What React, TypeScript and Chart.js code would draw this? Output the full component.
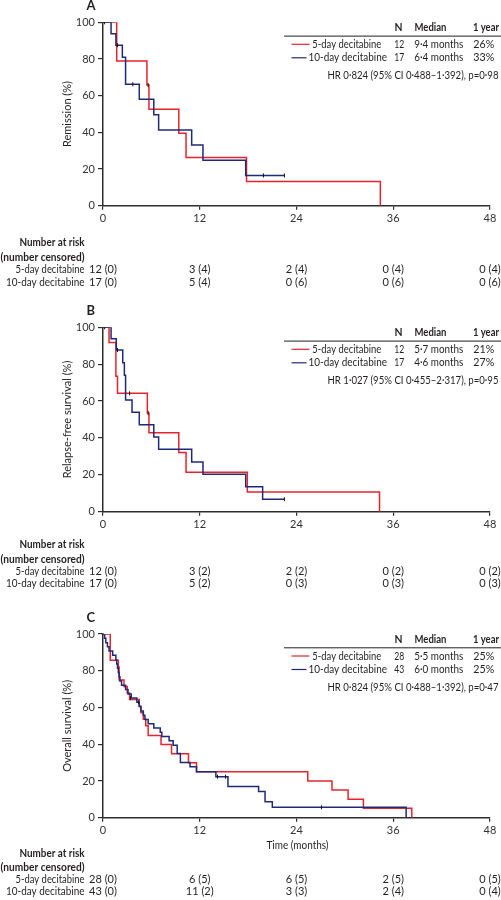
import React, { useEffect, useRef } from "react";
import { Chart, registerables } from "chart.js";

Chart.register(...registerables);

const FONT = "Lato, 'Noto Sans', sans-serif";
const RED = "#e8232b";
const BLUE = "#1e2a78";
const INK = "#231f20";
const AXIS = "#2e2e2e";

// ---------- shared labels ----------
const monthTicks = [0, 12, 24, 36, 48];
const seriesNames = ["5-day decitabine", "10-day decitabine"];
const legendHeader = ["N", "Median", "1 year"];

// ---------- Panel A: remission ----------
const remission5Time = [0, 1.7, 5.45, 5.7, 9.4, 10.3, 17.8, 34.4];
const remission5Pct = [100, 78.9, 65.8, 52.6, 39.5, 26.3, 13.2, 0];
const remission10Time = [0, 1.0, 1.6, 2.4, 2.8, 4.5, 6.3, 6.9, 11.0, 12.4, 17.7, 22.5];
const remission10Pct = [100, 93.8, 87.5, 80.9, 66.2, 58.0, 49.6, 41.3, 33.1, 24.8, 16.5, 16.5];
const remissionCensorTime = [0.2, 1.8, 3.7, 5.6, 19.9, 22.5];
const remissionCensorPct = [100, 87.5, 66.2, 65.8, 16.5, 16.5];
const remissionN = ["12", "17"];
const remissionMedian = ["9·4 months", "6·4 months"];
const remissionYear = ["26%", "33%"];
const remissionHR = "HR 0·824 (95% CI 0·488–1·392), p=0·98";
const remissionRisk5 = ["12 (0)", "3 (4)", "2 (4)", "0 (4)", "0 (4)"];
const remissionRisk10 = ["17 (0)", "5 (4)", "0 (6)", "0 (6)", "0 (6)"];

// ---------- Panel B: relapse-free survival ----------
const rfs5Time = [0, 0.75, 1.6, 1.8, 5.5, 5.7, 9.4, 10.3, 17.9, 34.3];
const rfs5Pct = [100, 91.7, 73.4, 64.2, 53.5, 42.8, 32.1, 21.4, 10.7, 0];
const rfs10Time = [0, 1.0, 1.65, 2.45, 2.65, 2.8, 3.6, 4.5, 6.3, 6.9, 11.0, 12.4, 17.7, 19.8, 22.5];
const rfs10Pct = [100, 93.8, 87.7, 80.8, 74.0, 60.6, 53.9, 47.2, 40.5, 33.8, 27.0, 20.3, 13.5, 6.8, 6.8];
const rfsCensorTime = [0.2, 1.8, 3.3, 5.6, 22.5];
const rfsCensorPct = [100, 87.7, 64.2, 53.5, 6.8];
const rfsN = ["12", "17"];
const rfsMedian = ["5·7 months", "4·6 months"];
const rfsYear = ["21%", "27%"];
const rfsHR = "HR 1·027 (95% CI 0·455–2·317), p=0·95";
const rfsRisk5 = ["12 (0)", "3 (2)", "2 (2)", "0 (2)", "0 (2)"];
const rfsRisk10 = ["17 (0)", "5 (2)", "0 (3)", "0 (3)", "0 (3)"];

// ---------- Panel C: overall survival ----------
const os5Time = [0, 0.9, 1.9, 2.0, 2.6, 3.0, 3.3, 4.5, 4.7, 5.0, 5.3, 5.6, 7.2, 8.5, 10.6, 11.6, 25.4, 28.4, 30.4, 32.3, 38.3];
const os5Pct = [100, 85.7, 82.1, 75.0, 71.4, 67.9, 64.3, 60.7, 57.1, 53.6, 50.0, 44.8, 39.9, 34.8, 29.9, 25.0, 20.0, 15.1, 10.0, 5.1, 0];
const os10Time = [0, 0.2, 0.35, 0.55, 0.75, 1.2, 1.6, 1.7, 1.8, 1.9, 2.0, 2.1, 2.3, 2.8, 3.1, 3.5, 4.2, 4.5, 4.7, 5.0, 5.2, 5.6, 6.3, 7.1, 7.3, 8.2, 8.7, 9.2, 9.6, 10.8, 11.6, 14.0, 15.5, 19.3, 20.1, 21.0, 37.6];
const os10Pct = [100, 97.7, 95.3, 93.0, 90.7, 88.4, 86.0, 83.7, 81.4, 79.1, 76.7, 74.4, 72.1, 69.8, 67.4, 65.1, 62.8, 60.5, 58.1, 55.8, 53.5, 51.2, 48.8, 46.5, 44.2, 41.9, 39.5, 35.0, 30.0, 27.8, 25.0, 22.3, 17.0, 14.2, 8.7, 5.7, 0];
const osCensorTime = [3.4, 4.4, 14.2, 15.2, 27.1];
const osCensorPct = [65.1, 62.8, 22.3, 22.3, 5.7];
const osN = ["28", "43"];
const osMedian = ["5·5 months", "6·0 months"];
const osYear = ["25%", "25%"];
const osHR = "HR 0·824 (95% CI 0·488–1·392), p=0·47";
const osRisk5 = ["28 (0)", "6 (5)", "6 (5)", "2 (5)", "0 (5)"];
const osRisk10 = ["43 (0)", "11 (2)", "3 (3)", "2 (4)", "0 (4)"];

type PanelSpec = {
  letter: string;
  yTitle: string;
  canvasTop: number;
  height: number;
  plotTop: number;
  plotBottom: number;
  t5: number[]; v5: number[];
  t10: number[]; v10: number[];
  ct: number[]; cv: number[];
  n: string[]; median: string[]; year: string[]; hr: string;
  risk5: string[]; risk10: string[];
  narY: number[];
  xTitle?: string;
  xTitleY?: number;
};

const panels: PanelSpec[] = [
  {
    letter: "A", yTitle: "Remission (%)", canvasTop: 0, height: 295, plotTop: 22.3, plotBottom: 205.7,
    t5: remission5Time, v5: remission5Pct, t10: remission10Time, v10: remission10Pct,
    ct: remissionCensorTime, cv: remissionCensorPct,
    n: remissionN, median: remissionMedian, year: remissionYear, hr: remissionHR,
    risk5: remissionRisk5, risk10: remissionRisk10, narY: [242.3, 257.3, 269.5, 282],
  },
  {
    letter: "B", yTitle: "Relapse-free survival (%)", canvasTop: 295, height: 305, plotTop: 32.3, plotBottom: 216.7,
    t5: rfs5Time, v5: rfs5Pct, t10: rfs10Time, v10: rfs10Pct,
    ct: rfsCensorTime, cv: rfsCensorPct,
    n: rfsN, median: rfsMedian, year: rfsYear, hr: rfsHR,
    risk5: rfsRisk5, risk10: rfsRisk10, narY: [249, 264.3, 276.7, 288.5],
  },
  {
    letter: "C", yTitle: "Overall survival (%)", canvasTop: 600, height: 300, plotTop: 34, plotBottom: 217.7,
    t5: os5Time, v5: os5Pct, t10: os10Time, v10: os10Pct,
    ct: osCensorTime, cv: osCensorPct,
    n: osN, median: osMedian, year: osYear, hr: osHR,
    risk5: osRisk5, risk10: osRisk10, narY: [253.3, 267.3, 279.5, 291.7],
    xTitle: "Time (months)", xTitleY: 245.7,
  },
];

const toPoints = (t: number[], v: number[]) => t.map((x, i) => ({ x, y: v[i] }));

// draw text, condensing it horizontally only if wider than the allowed width
function fit(ctx: CanvasRenderingContext2D, text: string, x: number, y: number, w: number) {
  if (ctx.measureText(text).width > w) ctx.fillText(text, x, y, w);
  else ctx.fillText(text, x, y);
}

function Panel({ spec }: { spec: PanelSpec }) {
  const ref = useRef<HTMLCanvasElement | null>(null);
  useEffect(() => {
    const canvas = ref.current;
    if (!canvas) return;
    const textPlugin = {
      id: "kmText",
      afterDraw(chart: any) {
        const ctx: CanvasRenderingContext2D = chart.ctx;
        const area = chart.chartArea;
        const xs = chart.scales.x;
        const pt = area.top;
        ctx.save();
        ctx.fillStyle = INK;
        ctx.textBaseline = "middle";
        // panel letter
        ctx.font = `bold 13px ${FONT}`;
        ctx.textAlign = "left";
        ctx.fillText(spec.letter, 86.5, pt - 16);
        // y title
        ctx.save();
        ctx.font = `11px ${FONT}`;
        ctx.translate(67, (area.top + area.bottom) / 2);
        ctx.rotate(-Math.PI / 2);
        ctx.textAlign = "center";
        ctx.fillText(spec.yTitle, 0, 0);
        ctx.restore();
        // legend table
        ctx.font = `bold 11px ${FONT}`;
        ctx.textAlign = "left";
        fit(ctx, legendHeader[0], 394.5, pt + 5, 8);
        fit(ctx, legendHeader[1], 414.5, pt + 5, 32);
        fit(ctx, legendHeader[2], 473, pt + 5, 26);
        ctx.strokeStyle = INK;
        ctx.lineWidth = 1;
        ctx.beginPath();
        ctx.moveTo(284, pt + 13.8);
        ctx.lineTo(501, pt + 13.8);
        ctx.stroke();
        const rowY = [pt + 22, pt + 35.5];
        const colors = [RED, BLUE];
        const lineEnds = [309.5, 306.5];
        const labelX = [312.3, 308.5];
        const labelW = [69, 78.5];
        ctx.font = `11px ${FONT}`;
        for (let i = 0; i < 2; i++) {
          ctx.strokeStyle = colors[i];
          ctx.lineWidth = 1.2;
          ctx.beginPath();
          ctx.moveTo(291.5, rowY[i]);
          ctx.lineTo(lineEnds[i], rowY[i]);
          ctx.stroke();
          ctx.fillStyle = INK;
          fit(ctx, seriesNames[i], labelX[i], rowY[i], labelW[i]);
          fit(ctx, spec.n[i], 394.3, rowY[i], 10);
          fit(ctx, spec.median[i], 414.3, rowY[i], 49);
          fit(ctx, spec.year[i], 473.3, rowY[i], 21);
        }
        ctx.textAlign = "right";
        fit(ctx, spec.hr, 498.5, pt + 53.3, 171);
        // x title
        if (spec.xTitle) {
          ctx.textAlign = "center";
          fit(ctx, spec.xTitle, xs.getPixelForValue(24) + 1, spec.xTitleY as number, 62);
        }
        // number at risk
        ctx.textAlign = "right";
        ctx.font = `bold 11px ${FONT}`;
        fit(ctx, "Number at risk", 84.5, spec.narY[0], 65);
        fit(ctx, "(number censored)", 84.5, spec.narY[1], 84);
        ctx.font = `11px ${FONT}`;
        fit(ctx, seriesNames[0], 84.5, spec.narY[2], 69);
        fit(ctx, seriesNames[1], 84.5, spec.narY[3], 78.5);
        ctx.textAlign = "center";
        monthTicks.forEach((m, i) => {
          const x = xs.getPixelForValue(m);
          ctx.fillText(spec.risk5[i], x, spec.narY[2]);
          ctx.fillText(spec.risk10[i], x, spec.narY[3]);
        });
        ctx.restore();
      },
    };

    const chart = new Chart(canvas, {
      type: "line",
      data: {
        datasets: [
          {
            label: seriesNames[0],
            data: toPoints(spec.t5, spec.v5),
            borderColor: RED,
            borderWidth: 1.5,
            stepped: "before",
            pointRadius: 0,
            fill: false,
            order: 2,
          },
          {
            label: seriesNames[1],
            data: toPoints(spec.t10, spec.v10),
            borderColor: BLUE,
            borderWidth: 1.5,
            stepped: "before",
            pointRadius: 0,
            fill: false,
            order: 1,
          },
          {
            label: "censored",
            data: toPoints(spec.ct, spec.cv),
            showLine: false,
            pointStyle: "line",
            rotation: 90,
            pointRadius: 2,
            borderColor: "#111",
            borderWidth: 1,
            order: 0,
          },
        ],
      } as any,
      options: {
        animation: false,
        responsive: false,
        maintainAspectRatio: false,
        events: [],
        layout: { padding: { left: 0, right: 11, top: spec.plotTop, bottom: 0 } },
        plugins: { legend: { display: false }, tooltip: { enabled: false }, title: { display: false } },
        scales: {
          x: {
            type: "linear",
            min: 0,
            max: 48,
            afterBuildTicks: (s: any) => { s.ticks = monthTicks.map((v) => ({ value: v })); },
            ticks: { font: { family: FONT, size: 11 }, color: "#333", padding: 2, maxRotation: 0, autoSkip: false },
            grid: { drawOnChartArea: false, drawTicks: true, tickLength: 4, color: AXIS, lineWidth: 1.2 },
            border: { display: true, color: AXIS, width: 1.5 },
            afterFit: (s: any) => { s.height = spec.height - spec.plotBottom; },
          },
          y: {
            type: "linear",
            min: 0,
            max: 100,
            ticks: { stepSize: 20, font: { family: FONT, size: 11 }, color: "#333", padding: 3 },
            grid: { drawOnChartArea: false, drawTicks: true, tickLength: 5, color: AXIS, lineWidth: 1.2 },
            border: { display: true, color: AXIS, width: 1.5 },
            afterFit: (s: any) => { s.width = 103; },
          },
        },
      } as any,
      plugins: [textPlugin],
    });
    return () => chart.destroy();
  }, [spec]);

  return (
    <canvas
      ref={ref}
      width={501}
      height={spec.height}
      style={{ position: "absolute", left: 0, top: spec.canvasTop, width: 501, height: spec.height, display: "block" }}
    />
  );
}

export default function App() {
  return (
    <div style={{ position: "absolute", left: 0, top: 0, width: 501, height: 900, background: "#fff", overflow: "hidden" }}>
      {panels.map((p) => (
        <Panel key={p.letter} spec={p} />
      ))}
    </div>
  );
}
